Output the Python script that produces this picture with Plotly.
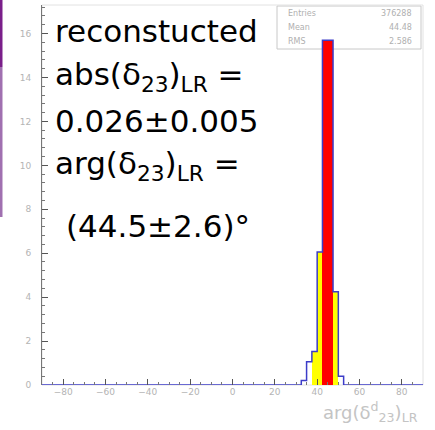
import plotly.graph_objects as go

# histogram binning: -90..90 in 2.5 degree bins
bin_lo = -90.0
bin_w = 2.5
n_bins = 72

# non-empty bins (left edge -> content), everything else is empty
peak_edges = [32.5, 35.0, 37.5, 40.0, 42.5, 45.0, 47.5, 50.0]
peak_counts = [0.2, 1.06, 1.52, 6.06, 15.7, 15.7, 4.24, 0.4]

# highlighted bands
red_edges = [42.5, 45.0]        # ~1 sigma
yellow_edges = [37.5, 40.0, 47.5]  # ~2 sigma

xticks = [-80, -60, -40, -20, 0, 20, 40, 60, 80]
yticks = [0, 2, 4, 6, 8, 10, 12, 14, 16]

stats_names = ["Entries", "Mean", "RMS"]
stats_vals = ["376288", "44.48", "2.586"]

text_lines = [
    "reconstucted",
    "abs(\u03b4<sub>23</sub>)<sub>LR</sub> =",
    "0.026\u00b10.005",
    "arg(\u03b4<sub>23</sub>)<sub>LR</sub> =",
    "(44.5\u00b12.6)\u00b0",
]

edges = [bin_lo + i * bin_w for i in range(n_bins + 1)]
counts = [0.0] * n_bins
for e, c in zip(peak_edges, peak_counts):
    counts[round((e - bin_lo) / bin_w)] = c
lookup = dict(zip(peak_edges, peak_counts))

fig = go.Figure()

# yellow 2-sigma part
fig.add_trace(go.Bar(
    x=[e + bin_w / 2 for e in yellow_edges],
    y=[lookup[e] for e in yellow_edges],
    width=bin_w, marker=dict(color="#ffff00", line=dict(width=0)),
    showlegend=False, hoverinfo="skip",
))
# red 1-sigma part
fig.add_trace(go.Bar(
    x=[e + bin_w / 2 for e in red_edges],
    y=[lookup[e] for e in red_edges],
    width=bin_w, marker=dict(color="#ff0000", line=dict(width=0)),
    showlegend=False, hoverinfo="skip",
))
# blue outline of the full histogram
fig.add_trace(go.Scatter(
    x=edges, y=counts + [counts[-1]],
    mode="lines", line=dict(color="#3c3cc8", width=1.5, shape="hv"),
    showlegend=False, hoverinfo="skip",
))

L, R, T, B = 42, 12, 5, 45
pw, ph = 435 - L - R, 430 - T - B


def px(xp):
    return (xp - L) / pw


def py(yp):
    return (430 - B - yp) / ph


# big labels
line_y = [31, 76, 121, 165, 226]
line_x = [53, 53, 53, 53, 64]
for t, xx, yy in zip(text_lines, line_x, line_y):
    fig.add_annotation(
        text=t, xref="paper", yref="paper", x=px(xx), y=py(yy),
        xanchor="left", yanchor="middle", showarrow=False,
        font=dict(family="DejaVu Sans", size=31, color="black"),
    )

# stats box
fig.add_shape(type="rect", xref="paper", yref="paper",
              x0=px(277), x1=px(421), y0=py(49), y1=py(6),
              line=dict(color="#c8c8c8", width=1), fillcolor="white", layer="below")
for i, (n, v) in enumerate(zip(stats_names, stats_vals)):
    yy = py(14 + 14 * i)
    fig.add_annotation(text=n, xref="paper", yref="paper", x=px(286), y=yy,
                       xanchor="left", yanchor="middle", showarrow=False,
                       font=dict(family="DejaVu Sans", size=8, color="#b0b0b0"))
    fig.add_annotation(text=v, xref="paper", yref="paper", x=px(414), y=yy,
                       xanchor="right", yanchor="middle", showarrow=False,
                       font=dict(family="DejaVu Sans", size=8, color="#b0b0b0"))

# x axis title, bottom right
fig.add_annotation(
    text="arg(\u03b4<sup>d</sup><sub>23</sub>)<sub>LR</sub>",
    xref="paper", yref="paper", x=px(420), y=py(412),
    xanchor="right", yanchor="middle", showarrow=False,
    font=dict(family="DejaVu Sans", size=18, color="#c4c4c4"),
)

# frame (faint top/right) and purple strip on the far left
fig.add_shape(type="rect", xref="paper", yref="paper", x0=0, x1=1, y0=0, y1=1,
              line=dict(color="#e2e2e2", width=1), layer="below")
fig.add_shape(type="line", xref="paper", yref="paper", x0=px(1), x1=px(1),
              y0=py(0), y1=py(67), line=dict(color="#7a1f8a", width=3))
fig.add_shape(type="line", xref="paper", yref="paper", x0=px(1), x1=px(1),
              y0=py(67), y1=py(217), line=dict(color="#a070b0", width=3))

fig.update_xaxes(
    range=[-90, 90], tickvals=xticks, ticks="inside", ticklen=6, tickcolor="#555",
    minor=dict(dtick=5, ticks="inside", ticklen=3, tickcolor="#777"),
    showgrid=False, zeroline=False, showline=False,
    tickfont=dict(family="DejaVu Sans", size=9, color="#b4b4b4"),
)
fig.update_yaxes(
    range=[0, 17.3], tickvals=yticks, ticks="inside", ticklen=6, tickcolor="#555",
    minor=dict(dtick=0.4, ticks="inside", ticklen=3, tickcolor="#777"),
    showgrid=False, zeroline=False, showline=True, linecolor="#777", linewidth=1,
    ticklabelstandoff=8,
    tickfont=dict(family="DejaVu Sans", size=9, color="#b4b4b4"),
)
fig.update_layout(
    width=435, height=430, margin=dict(l=L, r=R, t=T, b=B),
    plot_bgcolor="white", paper_bgcolor="white",
    barmode="overlay", bargap=0,
)
# drop the default page margin so the figure sits at the window's corner
fig.write_html("out.html", config={"displayModeBar": False},
               post_script="document.body.style.margin='0';")
